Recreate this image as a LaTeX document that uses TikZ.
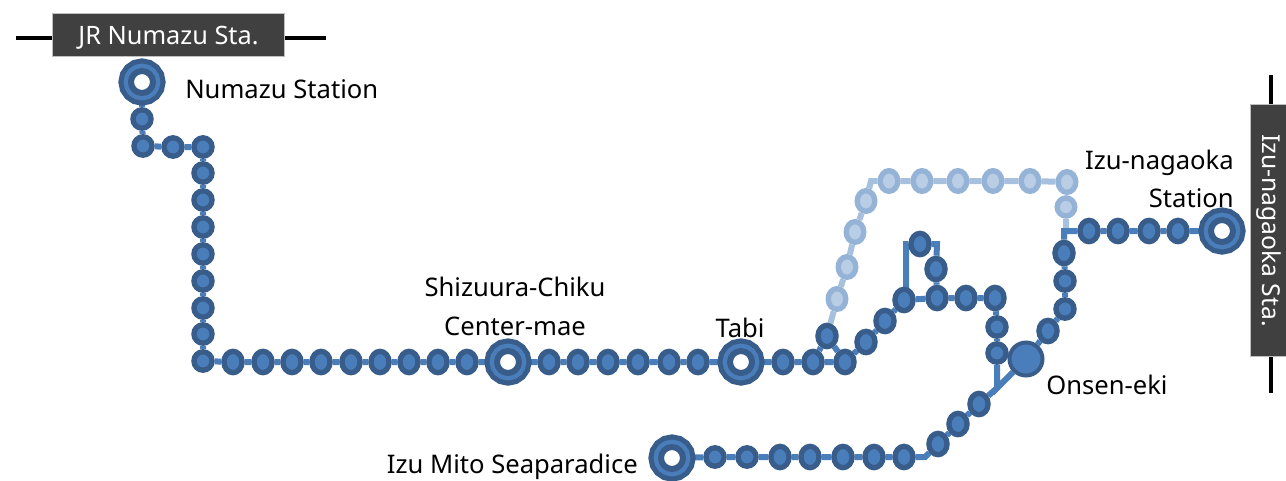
\documentclass[tikz,border=0pt]{standalone}
\usepackage{fontspec}
\setmainfont{Noto Sans}
\usetikzlibrary{shapes.geometric,backgrounds}
\definecolor{rdark}{HTML}{385D8A}
\definecolor{rblue}{HTML}{4A7EBB}
\definecolor{lline}{HTML}{A7C0DE}
\definecolor{lout}{HTML}{95B3D7}
\definecolor{lin}{HTML}{B9CDE5}
\definecolor{boxfill}{HTML}{404040}
\definecolor{boxedge}{HTML}{BFBFBF}
\tikzset{
 px/.style={x=0.75pt,y=-0.75pt},
 stn/.style={ellipse,inner sep=0pt,fill=rblue,draw=rdark,line width=4pt,minimum width=13.6pt,minimum height=16pt},
 stnr/.style={stn,minimum height=13.8pt},
 stnl/.style={stn,fill=lin,draw=lout,minimum width=13.2pt,minimum height=15.5pt},
 stnlr/.style={stnl,minimum height=13.5pt},
 ring/.style={circle,inner sep=0pt,minimum size=16.5pt,fill=white,draw=rdark,line width=4.5pt,
   preaction={draw=rdark,line width=18.75pt},preaction={draw=rblue,line width=11pt}},
 hub/.style={circle,inner sep=0pt,minimum size=24.75pt,fill=rblue,draw=rdark,line width=3pt},
 track/.style={draw=rblue,line width=4.5pt,line join=miter},
 ltrack/.style={draw=lline,line width=4.5pt,line join=miter},
 lbl/.style={inner sep=0pt,font=\fontsize{19.2}{22}\selectfont,text=black},
 sign/.style={fill=boxfill,draw=boxedge,line width=1.2pt,inner sep=0pt,text=white},
 bar/.style={draw=black,line width=2.8pt},
}
\begin{document}
\begin{tikzpicture}[px]
\useasboundingbox (0,0) rectangle (1286,480);
% signs
\node[sign,font=\fontsize{19}{22}\selectfont,minimum width=174pt,minimum height=32.5pt] (jr) at (168.5,35) {\raisebox{-6.75pt}[0pt][0pt]{JR Numazu Sta.}};
\node[sign,font=\fontsize{18.5}{22}\selectfont,minimum width=189pt,minimum height=27.5pt,rotate=-90] (izs) at (1269,230.5) {\raisebox{-5.25pt}[0pt][0pt]{Izu-nagaoka Sta.}};
\coordinate (jrl) at (16,38); \coordinate (jrr) at (326,38);
\coordinate (izt) at (1271,75); \coordinate (izb) at (1271,393);
\draw[bar] (jrl) -- (jr.west |- jrl);
\draw[bar] (jr.east |- jrr) -- (jrr);
\draw[bar] (izt) -- (izt |- izs.west);
\draw[bar] (izb |- izs.east) -- (izb);
% main stations
\node[ring] (numazu) at (142,82) {};
\node[ring] (center) at (508,362) {};
\node[ring] (tabi) at (741,362) {};
\node[ring] (mito) at (672,458) {};
\node[ring] (nagaoka) at (1222,231) {};
\node[hub] (onsen) at (1026,359) {};
% top section
\node[stnr] (a1) at (142,119) {};
\node[stnr] (a2) at (143,146) {};
\node[stnr] (a3) at (173,147) {};
\node[stnr] (a4) at (203,147) {};
\node[stnr] (a5) at (203,173) {};
\node[stnr] (a6) at (203,200) {};
\node[stnr] (a7) at (203,227) {};
\node[stnr] (a8) at (203,254) {};
\node[stnr] (a9) at (203,281) {};
\node[stnr] (a10) at (203,308) {};
\node[stnr] (a11) at (203,334) {};
\node[stnr] (a12) at (203,361) {};
% long horizontal
\node[stn] (b1) at (233,362) {};
\node[stn] (b2) at (263,362) {};
\node[stn] (b3) at (292,362) {};
\node[stn] (b4) at (321,362) {};
\node[stn] (b5) at (351,362) {};
\node[stn] (b6) at (380,362) {};
\node[stn] (b7) at (409,362) {};
\node[stn] (b8) at (438,362) {};
\node[stn] (b9) at (467,362) {};
\node[stn] (c1) at (549,362) {};
\node[stn] (c2) at (578,362) {};
\node[stn] (c3) at (608,362) {};
\node[stn] (c4) at (638,362) {};
\node[stn] (c5) at (669,362) {};
\node[stn] (c6) at (698,362) {};
\node[stn] (d1) at (783,362) {};
\node[stn] (d2) at (813,362) {};
\node[stn] (d3) at (827,336) {};
\node[stn] (d4) at (845,362) {};
\node[stn] (e1) at (866,342) {};
\node[stn] (e2) at (885,321) {};
\node[stn] (e3) at (904,300) {};
\node[stn] (e4) at (920,244) {};
\node[stn] (e5) at (936,269) {};
\node[stn] (e6) at (937,298) {};
\node[stn] (e7) at (966,298) {};
\node[stn] (e8) at (995,298) {};
\node[stnr] (e9) at (997,327) {};
\node[stnr] (e10) at (997,353) {};
% lower line
\node[stnr] (f1) at (715,457) {};
\node[stnr] (f2) at (747,457) {};
\node[stn] (f3) at (780,457) {};
\node[stn] (f4) at (810,457) {};
\node[stn] (f5) at (843,457) {};
\node[stn] (f6) at (874,457) {};
\node[stn] (f7) at (904,457) {};
\node[stn] (f8) at (938,444) {};
\node[stn] (f9) at (958,424) {};
\node[stn] (f10) at (979,404) {};
% right branch
\node[stn] (g1) at (1048,331) {};
\node[stnr] (g2) at (1065,309) {};
\node[stnr] (g3) at (1065,281) {};
\node[stn] (g4) at (1064,253) {};
\node[stn] (h1) at (1089,231) {};
\node[stn] (h2) at (1118,231) {};
\node[stn] (h3) at (1149,231) {};
\node[stn] (h4) at (1178,231) {};
% light line
\node[stnl] (k1) at (837,299) {};
\node[stnl] (k2) at (847,267) {};
\node[stnl] (k3) at (855,232) {};
\node[stnl] (k4) at (866,201) {};
\node[stnl] (k5) at (889,181) {};
\node[stnl] (k6) at (922,181) {};
\node[stnl] (k7) at (958,181) {};
\node[stnl] (k8) at (993,181) {};
\node[stnl] (k9) at (1030,181) {};
\node[stnl] (k10) at (1067,182) {};
\node[stnlr] (k11) at (1066,207) {};
% junction coordinates
\coordinate (lc1) at (871,181);
\coordinate (lc2) at (1066,231);
\coordinate (jn) at (1064,231);
\coordinate (lp1) at (906,244);
\coordinate (lp2) at (937,244);
\coordinate (rj) at (997,388);
\coordinate (fj) at (925,457);
\begin{scope}[on background layer]
\path[ltrack] (d3) -- (k1) -- (k2) -- (k3) -- (k4) -- (lc1) -- (k5) -- (k6) -- (k7) -- (k8) -- (k9) -- (k10) -- (k11) -- (lc2);
\path[track] (numazu) -- (a1) -- (a2) -- (a3) -- (a4) -- (a5) -- (a6) -- (a7) -- (a8) -- (a9) -- (a10) -- (a11) -- (a12) -- (b1) -- (b2) -- (b3) -- (b4) -- (b5) -- (b6) -- (b7) -- (b8) -- (b9) -- (center) -- (c1) -- (c2) -- (c3) -- (c4) -- (c5) -- (c6) -- (tabi) -- (d1) -- (d2) -- (d4) -- (e1) -- (e2) -- (e3) -- (e6) -- (e7) -- (e8) -- (e9) -- (e10) -- (rj) -- (onsen) -- (g1) -- (g2) -- (g3) -- (g4) -- (jn) -- (h1) -- (h2) -- (h3) -- (h4) -- (nagaoka);
\path[track] (d2) -- (d3) -- (d4);
\path[track] (lp1 |- e3) -- (lp1) -- (e4) -- (lp2) -- (e5) -- (e6);
\path[track] (mito) -- (f1) -- (f2) -- (f3) -- (f4) -- (f5) -- (f6) -- (f7) -- (fj) -- (f8) -- (f9) -- (f10) -- (rj);
\end{scope}
% labels
\node[lbl,anchor=west] (t1) at (185,89) {Numazu Station};
\node[lbl] (t2) at (515,287) {Shizuura-Chiku};
\node[lbl] (t3) at (515,326) {Center-mae};
\node[lbl] (t4) at (740,328) {Tabi};
\node[lbl,anchor=east] (t5) at (1234,163) {Izu-nagaoka};
\node[lbl,anchor=east] (t6) at (1234,198) {Station};
\node[lbl,anchor=west] (t7) at (1046,385) {Onsen-eki};
\node[lbl,anchor=east] (t8) at (638,467) {Izu Mito Seaparadice};
\end{tikzpicture}
\end{document}
